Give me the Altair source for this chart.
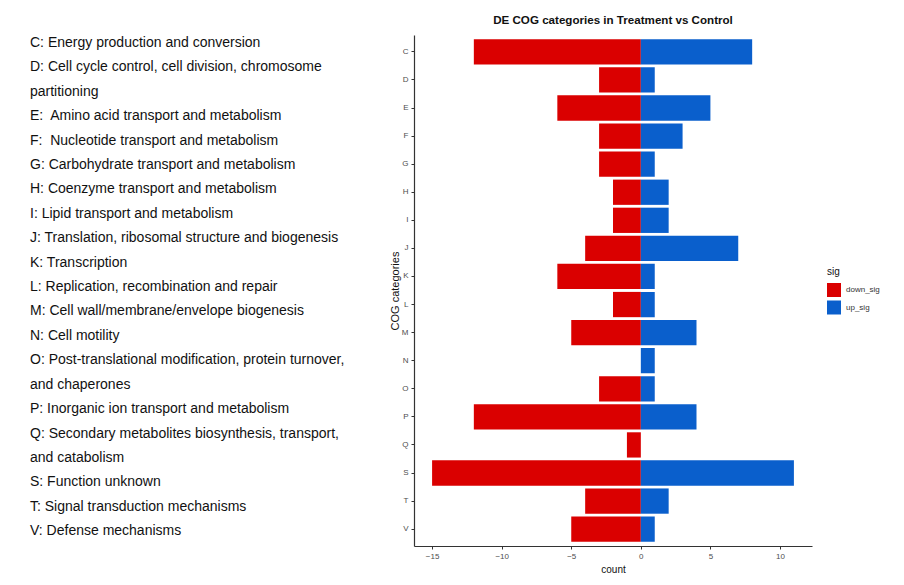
import pandas as pd
import altair as alt

# COG categories and DE counts (down_sig shown as negative)
categories = ["C", "D", "E", "F", "G", "H", "I", "J", "K", "L",
              "M", "N", "O", "P", "Q", "S", "T", "V"]
down_counts = [12, 3, 6, 3, 3, 2, 2, 4, 6, 2, 5, 0, 3, 12, 1, 15, 4, 5]
up_counts = [8, 1, 5, 3, 1, 2, 2, 7, 1, 1, 4, 1, 1, 4, 0, 11, 2, 1]

# description lines shown at the left
desc_lines = [
    "C: Energy production and conversion",
    "D: Cell cycle control, cell division, chromosome",
    "partitioning",
    "E:\u00a0 Amino acid transport and metabolism",
    "F:\u00a0 Nucleotide transport and metabolism",
    "G: Carbohydrate transport and metabolism",
    "H: Coenzyme transport and metabolism",
    "I: Lipid transport and metabolism",
    "J: Translation, ribosomal structure and biogenesis",
    "K: Transcription",
    "L: Replication, recombination and repair",
    "M: Cell wall/membrane/envelope biogenesis",
    "N: Cell motility",
    "O: Post-translational modification, protein turnover,",
    "and chaperones",
    "P: Inorganic ion transport and metabolism",
    "Q: Secondary metabolites biosynthesis, transport,",
    "and catabolism",
    "S: Function unknown",
    "T: Signal transduction mechanisms",
    "V: Defense mechanisms",
]

rows = []
for cat, d, u in zip(categories, down_counts, up_counts):
    if d:
        rows.append({"cog": cat, "sig": "down_sig", "count": -d})
    if u:
        rows.append({"cog": cat, "sig": "up_sig", "count": u})
bars_df = pd.DataFrame(rows)
desc_df = pd.DataFrame({"line": range(len(desc_lines)), "text": desc_lines})

FONT = "Liberation Sans"

desc = alt.Chart(desc_df).mark_text(
    align="left", baseline="middle", fontSize=14, font=FONT, color="#111111"
).encode(
    x=alt.value(0),
    y=alt.Y("line:Q", axis=None,
            scale=alt.Scale(domain=[-0.33, 20.61], nice=False, zero=False, reverse=True)),
    text="text:N",
).properties(width=330, height=511)

bars = alt.Chart(bars_df).mark_bar().encode(
    x=alt.X("count:Q", title="count", stack=None,
            scale=alt.Scale(domain=[-16.3, 12.3], nice=False, zero=False),
            axis=alt.Axis(values=[-15, -10, -5, 0, 5, 10], grid=False, titleFontSize=10)),
    y=alt.Y("cog:N", title="COG categories", sort=categories,
            scale=alt.Scale(paddingInner=0.1, paddingOuter=0.15),
            axis=alt.Axis(grid=False, titleFontSize=11, titlePadding=1)),
    color=alt.Color("sig:N", title="sig",
                    scale=alt.Scale(domain=["down_sig", "up_sig"], range=["#DA0000", "#0A5FCC"]),
                    legend=alt.Legend(orient="none", legendX=797, legendY=232,
                                      symbolType="square", symbolSize=196,
                                      symbolStrokeWidth=0, labelFontSize=8,
                                      titleFontSize=10, titleFontWeight="normal",
                                      titlePadding=6, rowPadding=3.5, labelOffset=5,
                                      labelColor="#333333", titleColor="#111111")),
).properties(
    width=398, height=511,
    title=alt.Title("DE COG categories in Treatment vs Control", fontSize=11.6,
                    fontWeight="bold", font=FONT, color="#111111", offset=8),
)

chart = alt.hconcat(desc, bars, spacing=29).properties(
    padding={"left": 22, "top": 7, "right": 0, "bottom": 0}
).configure_view(stroke=None).configure_axis(
    labelFont=FONT, titleFont=FONT, labelFontSize=8,
    labelColor="#4D4D4D", titleColor="#111111", domainColor="#333333",
    tickColor="#333333", tickSize=3, labelPadding=3, titleFontWeight="normal",
    domainWidth=1.2,
).configure_legend(labelFont=FONT, titleFont=FONT)

chart.save("out.html", embed_options={"renderer": "svg", "actions": False})
